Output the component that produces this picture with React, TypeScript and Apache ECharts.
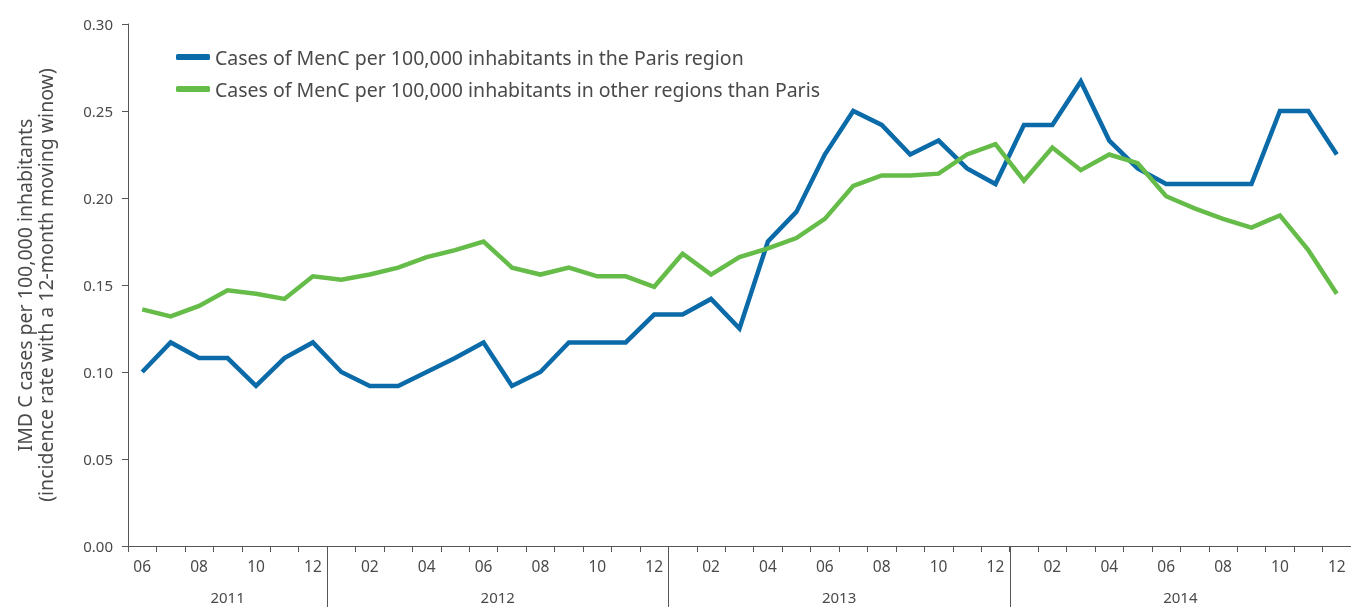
import React, { useEffect, useRef } from "react";
import * as echarts from "echarts";

const months = [
  "2011-06", "2011-07", "2011-08", "2011-09", "2011-10", "2011-11", "2011-12",
  "2012-01", "2012-02", "2012-03", "2012-04", "2012-05", "2012-06", "2012-07", "2012-08", "2012-09", "2012-10", "2012-11", "2012-12",
  "2013-01", "2013-02", "2013-03", "2013-04", "2013-05", "2013-06", "2013-07", "2013-08", "2013-09", "2013-10", "2013-11", "2013-12",
  "2014-01", "2014-02", "2014-03", "2014-04", "2014-05", "2014-06", "2014-07", "2014-08", "2014-09", "2014-10", "2014-11", "2014-12",
];

const parisName = "Cases of MenC per 100,000 inhabitants in the Paris region";
const otherName = "Cases of MenC per 100,000 inhabitants in other regions than Paris";

const paris = [
  0.100, 0.117, 0.108, 0.108, 0.092, 0.108, 0.117,
  0.100, 0.092, 0.092, 0.100, 0.108, 0.117, 0.092, 0.100, 0.117, 0.117, 0.117, 0.133,
  0.133, 0.142, 0.125, 0.175, 0.192, 0.225, 0.250, 0.242, 0.225, 0.233, 0.217, 0.208,
  0.242, 0.242, 0.267, 0.233, 0.217, 0.208, 0.208, 0.208, 0.208, 0.250, 0.250, 0.225,
];

const other = [
  0.136, 0.132, 0.138, 0.147, 0.145, 0.142, 0.155,
  0.153, 0.156, 0.160, 0.166, 0.170, 0.175, 0.160, 0.156, 0.160, 0.155, 0.155, 0.149,
  0.168, 0.156, 0.166, 0.171, 0.177, 0.188, 0.207, 0.213, 0.213, 0.214, 0.225, 0.231,
  0.210, 0.229, 0.216, 0.225, 0.220, 0.201, 0.194, 0.188, 0.183, 0.190, 0.170, 0.145,
];

const BLUE = "#0b6aa8";
const GREEN = "#65bc48";
const TEXT = "#4a4a4a";
const AXIS = "#555555";
const FONT = "'Noto Sans', sans-serif";

export default function App() {
  const ref = useRef<HTMLDivElement>(null);

  useEffect(() => {
    if (!ref.current) return;
    const chart = echarts.init(ref.current, null, { renderer: "svg" });
    chart.setOption({
      animation: false,
      textStyle: { fontFamily: FONT },
      grid: { left: 128, right: -3, top: 24, bottom: 61, containLabel: false },
      legend: {
        orient: "vertical",
        left: 171,
        top: 41,
        itemGap: 10,
        itemWidth: 34,
        itemHeight: 6,
        icon: "roundRect",
        textStyle: { fontSize: 19.5, lineHeight: 22, color: TEXT, fontFamily: FONT, padding: [0, 0, 0, 0] },
        data: [parisName, otherName],
      },
      xAxis: {
        type: "category",
        data: months,
        boundaryGap: true,
        axisLine: { lineStyle: { color: AXIS, width: 1 } },
        axisTick: { show: true, interval: 0, length: 6, lineStyle: { color: AXIS } },
        axisLabel: {
          interval: 1,
          margin: 12,
          fontSize: 15.5,
          color: TEXT,
          formatter: (v: string) => v.slice(5),
        },
        splitLine: { show: false },
      },
      yAxis: {
        type: "value",
        min: 0,
        max: 0.3,
        interval: 0.05,
        name: "IMD C cases per 100,000 inhabitants\n(incidence rate with a 12-month moving winow)",
        nameLocation: "middle",
        nameGap: 72,
        nameTextStyle: { fontSize: 19.5, color: TEXT, lineHeight: 21, fontFamily: FONT },
        axisLine: { show: true, lineStyle: { color: AXIS, width: 1 } },
        axisTick: { show: true, length: 6, lineStyle: { color: AXIS } },
        axisLabel: {
          fontSize: 15,
          color: TEXT,
          margin: 15,
          formatter: (v: number) => v.toFixed(2),
        },
        splitLine: { show: false },
      },
      series: [
        {
          name: parisName,
          type: "line",
          data: paris,
          showSymbol: false,
          symbol: "none",
          lineStyle: { color: BLUE, width: 4.5, join: "miter" },
          itemStyle: { color: BLUE },
        },
        {
          name: otherName,
          type: "line",
          data: other,
          showSymbol: false,
          symbol: "none",
          lineStyle: { color: GREEN, width: 4.5, join: "miter" },
          itemStyle: { color: GREEN },
        },
      ],
    });

    // Year row, placed through the category axis scale
    const years: { year: string; first: number; last: number }[] = [];
    months.forEach((m, i) => {
      const y = m.slice(0, 4);
      const cur = years[years.length - 1];
      if (!cur || cur.year !== y) years.push({ year: y, first: i, last: i });
      else cur.last = i;
    });
    const px = (i: number) => chart.convertToPixel({ xAxisIndex: 0 }, i) as number;
    const y0 = chart.convertToPixel({ yAxisIndex: 0 }, 0) as number;
    const band = px(1) - px(0);
    const graphics: any[] = [];
    years.forEach((yr, k) => {
      const left = px(yr.first) - band / 2;
      const right = px(yr.last) + band / 2;
      graphics.push({
        type: "text",
        x: (left + right) / 2,
        y: y0 + 51,
        style: {
          text: yr.year,
          fill: TEXT,
          fontSize: 15,
          fontFamily: FONT,
          textAlign: "center",
          textVerticalAlign: "middle",
        },
      });
      if (k > 0) {
        graphics.push({
          type: "line",
          shape: { x1: Math.round(left) + 0.5, y1: y0, x2: Math.round(left) + 0.5, y2: 607 },
          style: { stroke: AXIS, lineWidth: 1 },
        });
      }
    });
    chart.setOption({ graphic: graphics });

    return () => chart.dispose();
  }, []);

  return (
    <div
      ref={ref}
      style={{ position: "fixed", left: 0, top: 0, width: 1351, height: 607 }}
    />
  );
}
